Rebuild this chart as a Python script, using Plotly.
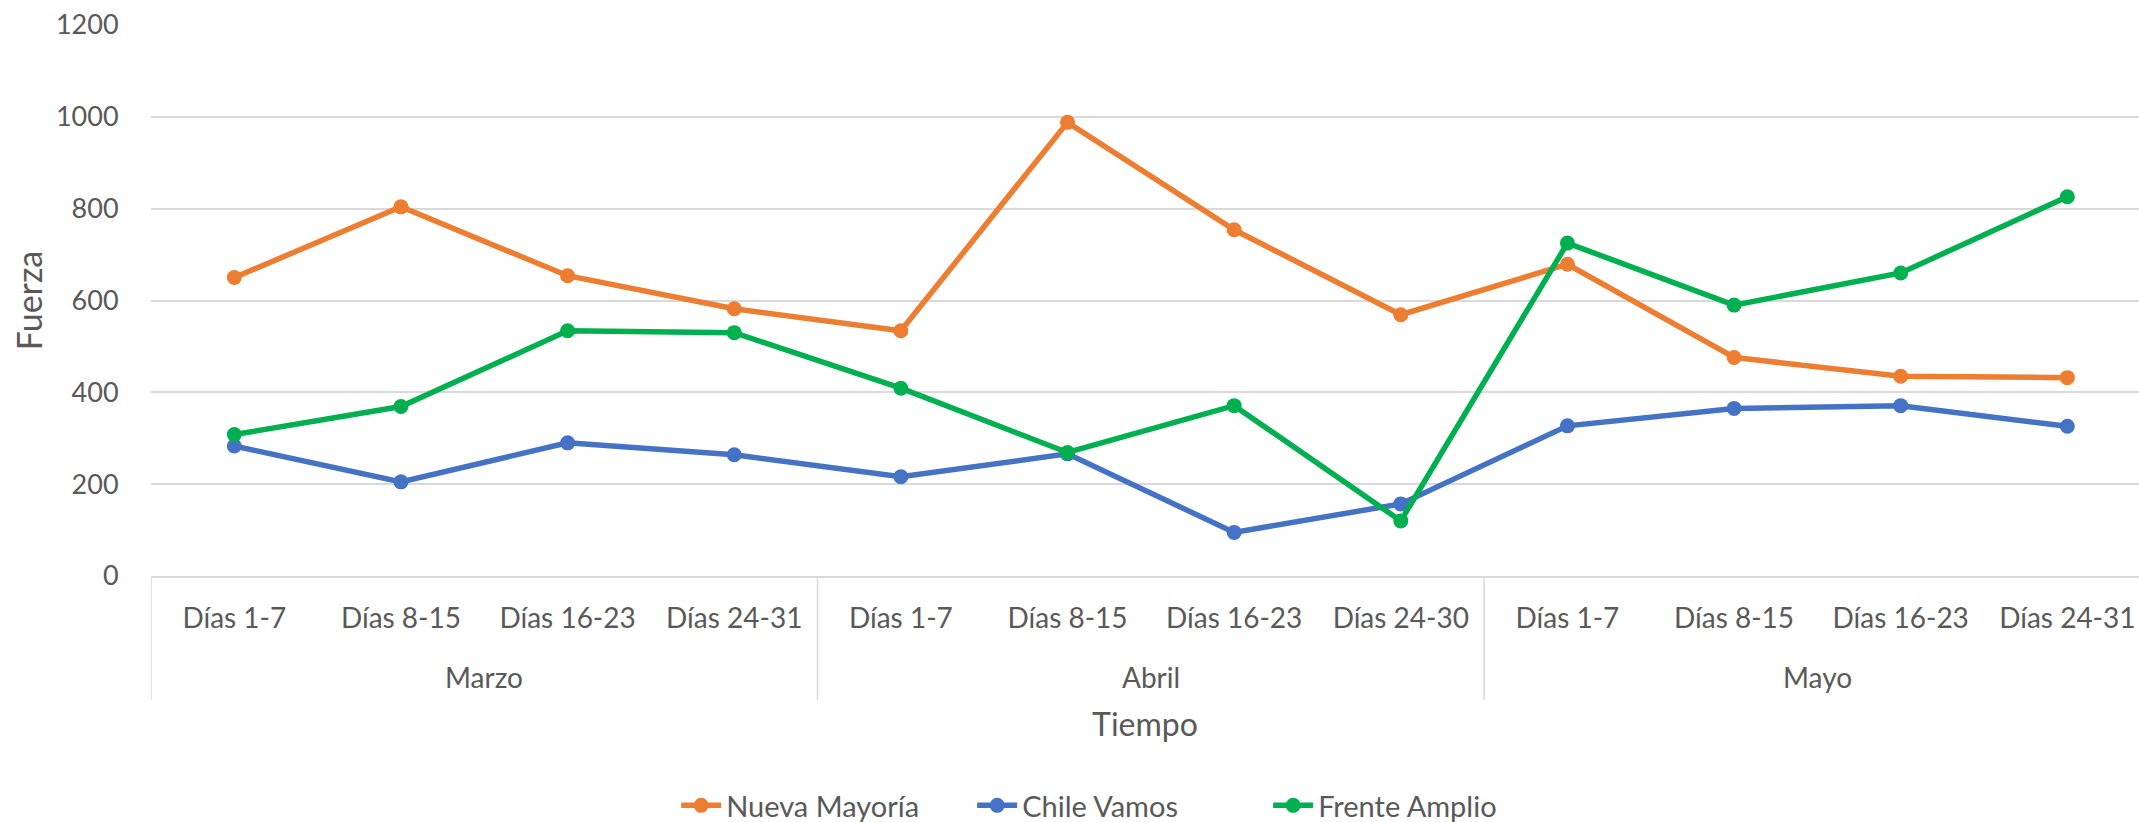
import plotly.graph_objects as go

months = ["Marzo", "Abril", "Mayo"]
days = ["Días 1-7", "Días 8-15", "Días 16-23", "Días 24-31",
        "Días 1-7", "Días 8-15", "Días 16-23", "Días 24-30",
        "Días 1-7", "Días 8-15", "Días 16-23", "Días 24-31"]
days_per_month = [4, 4, 4]

nueva_mayoria = [650, 804, 654, 582, 534, 988, 754, 569, 679, 476, 435, 432]
chile_vamos = [283, 205, 290, 264, 216, 266, 95, 157, 327, 365, 371, 326]
frente_amplio = [308, 369, 534, 530, 409, 269, 371, 120, 725, 590, 660, 826]

series = [
    ("Nueva Mayoría", nueva_mayoria, "#ED7D31"),
    ("Chile Vamos", chile_vamos, "#4472C4"),
    ("Frente Amplio", frente_amplio, "#00B050"),
]

# unique category keys (month + period), displayed with the period only
month_of = [m for m, n in zip(months, days_per_month) for _ in range(n)]
categories = [f"{m} · {d}" for m, d in zip(month_of, days)]

FONT = "Lato, 'Open Sans', sans-serif"
GRAY = "#595959"
GRID = "#D9D9D9"

fig = go.Figure()
for name, vals, color in series:
    fig.add_trace(go.Scatter(
        x=categories, y=vals, name=name, mode="lines+markers",
        line=dict(color=color, width=5.5),
        marker=dict(color=color, size=15),
    ))

# month group labels and separators below the category axis
start = 0
for m, n in zip(months, days_per_month):
    fig.add_annotation(x=start + (n - 1) / 2, xref="x", y=-0.183, yref="paper",
                       text=m, showarrow=False, yanchor="middle",
                       font=dict(size=28, color=GRAY, family=FONT))
    fig.add_shape(type="line", xref="x", yref="paper", x0=start - 0.5, x1=start - 0.5,
                  y0=0, y1=-0.225, line=dict(color=GRID, width=1.5))
    start += n
fig.add_shape(type="line", xref="x", yref="paper", x0=start - 0.5, x1=start - 0.5,
              y0=0, y1=-0.225, line=dict(color=GRID, width=1.5))

fig.update_layout(
    width=2139, height=822,
    paper_bgcolor="white", plot_bgcolor="white",
    margin=dict(l=151, r=0, t=25, b=246, autoexpand=False),
    font=dict(family=FONT, size=28, color=GRAY),
    showlegend=True,
    legend=dict(orientation="h", x=0.4875, xanchor="center", y=-0.4165, yanchor="middle",
                yref="paper", font=dict(size=29, color=GRAY),
                entrywidth=241, entrywidthmode="pixels", itemwidth=40),
    xaxis=dict(
        type="category", range=[-0.5, 11.43], automargin=False,
        tickmode="array", tickvals=categories, ticktext=days,
        showgrid=False, showline=True, linecolor=GRID, linewidth=1.5,
        ticks="outside", ticklen=17, tickcolor="rgba(0,0,0,0)",
        tickfont=dict(size=28, color=GRAY),
        title=dict(text="Tiempo", font=dict(size=32, color=GRAY), standoff=80),
    ),
    yaxis=dict(
        range=[0, 1200], dtick=200, showgrid=True, gridcolor=GRID, gridwidth=1.5,
        zeroline=False, showline=False, automargin=False,
        ticks="outside", ticklen=26, tickcolor="rgba(0,0,0,0)",
        tickfont=dict(size=27, color=GRAY),
        title=dict(text="Fuerza", font=dict(size=34, color=GRAY), standoff=3),
    ),
)

fig.write_html("out.html", config={"displayModeBar": False},
               post_script="document.body.style.margin='0';")
